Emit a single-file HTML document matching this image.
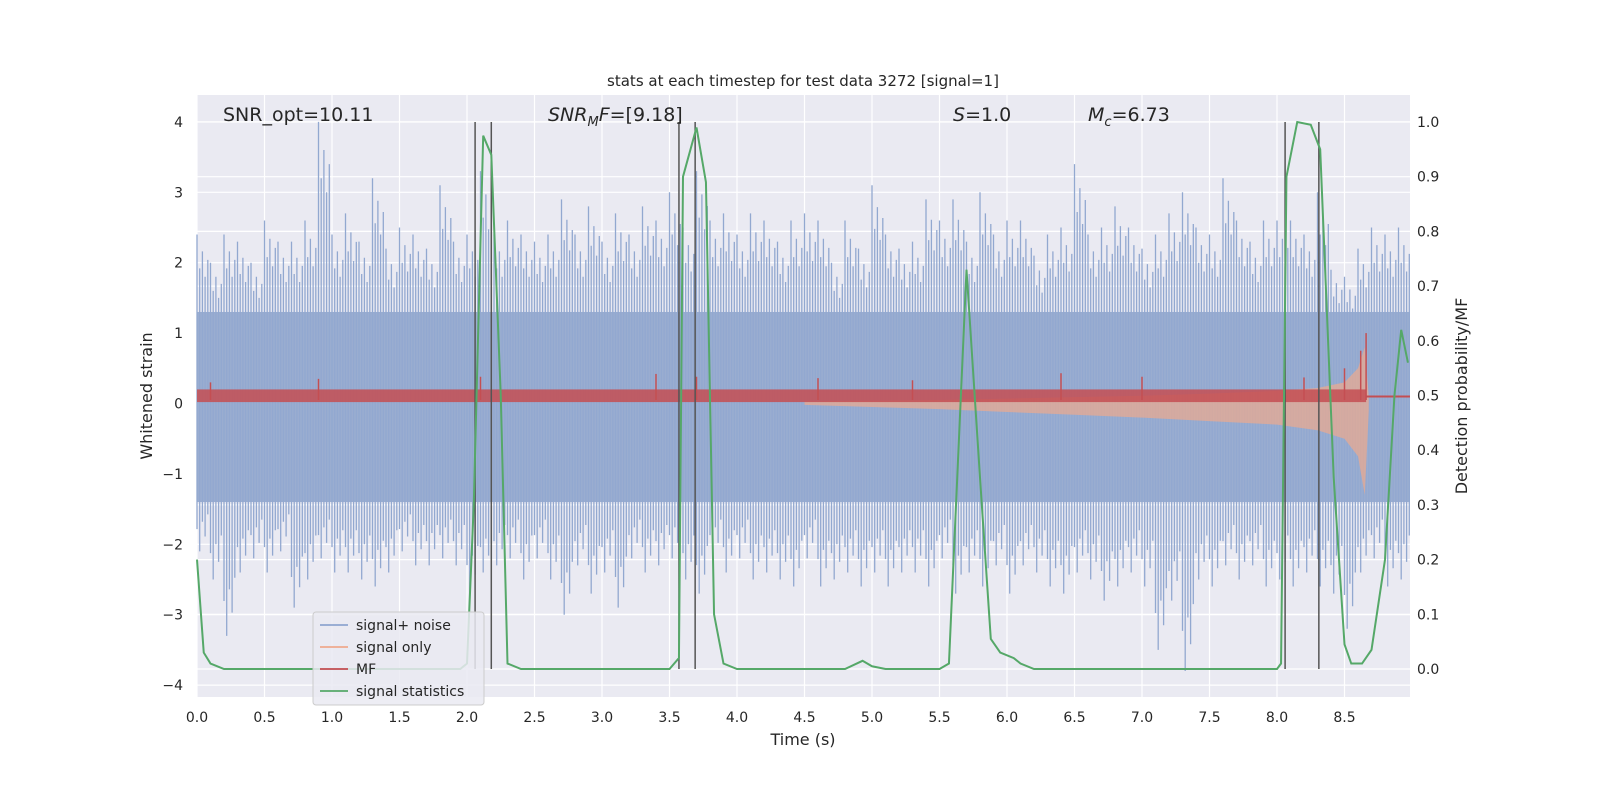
<!DOCTYPE html>
<html><head><meta charset="utf-8">
<style>
html,body{margin:0;padding:0;background:#fff;overflow:hidden;width:1600px;height:800px;}
svg{display:block;font-family:"DejaVu Sans","Liberation Sans",sans-serif;}
</style></head>
<body>
<svg id="chart" width="1600" height="800" viewBox="0 0 1600 800">
<rect x="0" y="0" width="1600" height="800" fill="#fff"/>
<rect x="197" y="95" width="1213" height="602" fill="#eaeaf2"/>
<g id="grid"></g>
<g id="noise"></g>
<g id="sigonly"></g>
<g id="mf"></g>
<g id="vlines"></g>
<g id="stat"></g>
<g id="axes"></g>
<text x="803" y="86" text-anchor="middle" font-size="15" fill="#262626">stats at each timestep for test data 3272 [signal=1]</text>
<text x="223" y="121" font-size="19" fill="#262626">SNR_opt=10.11</text>
<text x="548" y="121" font-size="19" fill="#262626"><tspan font-style="italic">SNR</tspan><tspan font-style="italic" font-size="13" dy="5">M</tspan><tspan font-style="italic" dy="-5">F</tspan>=[9.18]</text>
<text x="953" y="121" font-size="19" fill="#262626"><tspan font-style="italic">S</tspan>=1.0</text>
<text x="1088" y="121" font-size="19" fill="#262626"><tspan font-style="italic">M</tspan><tspan font-style="italic" font-size="13" dy="5">c</tspan><tspan dy="-5">=6.73</tspan></text>
<text x="803" y="745" text-anchor="middle" font-size="16" fill="#262626">Time (s)</text>
<text transform="translate(152,396) rotate(-90)" text-anchor="middle" font-size="16" fill="#262626">Whitened strain</text>
<text transform="translate(1467,396) rotate(-90)" text-anchor="middle" font-size="16" fill="#262626">Detection probability/MF</text>
<g>
<rect x="313" y="612" width="171" height="93" rx="3" fill="#eaeaf2" fill-opacity="0.85" stroke="#cccccc"/>
<line x1="320" y1="625" x2="348" y2="625" stroke="#8fa6cf" stroke-width="1.8"/>
<text x="356" y="630" font-size="14" fill="#262626">signal+ noise</text>
<line x1="320" y1="647" x2="348" y2="647" stroke="#eea98d" stroke-width="1.8"/>
<text x="356" y="652" font-size="14" fill="#262626">signal only</text>
<line x1="320" y1="669" x2="348" y2="669" stroke="#c44e52" stroke-width="1.8"/>
<text x="356" y="674" font-size="14" fill="#262626">MF</text>
<line x1="320" y1="691" x2="348" y2="691" stroke="#55a868" stroke-width="1.8"/>
<text x="356" y="696" font-size="14" fill="#262626">signal statistics</text>
</g>
</svg>
<script>
const xTicks=[0,0.5,1,1.5,2,2.5,3,3.5,4,4.5,5,5.5,6,6.5,7,7.5,8,8.5];
const yTicksLeft=[-4,-3,-2,-1,0,1,2,3,4];
const yTicksRight=[0,0.1,0.2,0.3,0.4,0.5,0.6,0.7,0.8,0.9,1.0];
const noiseUpper=[2.4,2.0,2.4,2.3,2.0,2.6,2.3,2.3,2.6,4.0,2.4,2.7,2.3,3.2,2.2,2.5,2.4,2.2,3.1,2.3,2.4,3.3,2.4,2.6,2.4,2.3,2.4,2.9,2.4,2.8,2.3,2.7,2.4,2.8,2.6,3.0,2.5,3.3,2.6,2.7,2.4,2.7,2.6,2.3,2.6,2.7,2.6,2.0,2.6,2.2,3.1,2.4,2.2,2.3,2.9,2.6,2.9,2.3,3.0,2.4,2.6,2.6,2.1,2.4,2.5,3.4,2.4,2.5,2.8,2.5,2.2,2.4,2.7,3.0,2.5,2.4,3.2,2.6,2.3,2.6,2.6,2.6,2.4,3.0,1.9,1.8,2.2,2.5,2.4,2.5];
const noiseLower=[-2.1,-2.5,-3.3,-2.4,-2.2,-2.4,-2.1,-2.9,-2.5,-2.2,-2.4,-2.4,-2.5,-2.6,-2.4,-2.1,-2.3,-2.3,-2.2,-2.3,-2.7,-2.4,-2.3,-2.2,-2.5,-2.2,-2.5,-3.0,-2.3,-2.7,-2.4,-2.9,-2.2,-2.4,-2.3,-2.2,-2.5,-2.7,-2.2,-2.4,-2.2,-2.5,-2.4,-2.5,-2.6,-2.2,-2.6,-2.5,-2.4,-2.6,-2.4,-2.6,-2.4,-2.4,-2.6,-2.2,-2.7,-2.4,-2.6,-2.3,-2.7,-2.3,-2.4,-2.6,-2.7,-2.4,-2.5,-2.8,-2.6,-2.4,-2.6,-3.5,-2.8,-3.8,-2.5,-2.6,-2.3,-2.5,-2.3,-2.6,-2.5,-2.6,-2.4,-2.6,-2.7,-3.2,-2.4,-2.2,-2.6,-2.5];
const sigTimes=[4.5,5.0,5.5,6.0,6.5,7.0,7.5,8.0,8.3,8.5,8.6,8.65,8.68];
const sigUpper=[0.03,0.04,0.05,0.07,0.09,0.11,0.14,0.18,0.22,0.3,0.5,0.8,0.1];
const sigLower=[-0.02,-0.05,-0.08,-0.12,-0.16,-0.2,-0.25,-0.3,-0.38,-0.5,-0.75,-1.3,-0.1];
const mfTimes=[0.1,0.9,2.1,3.4,3.7,4.6,5.3,6.4,7.0,8.2,8.5,8.62,8.66];
const mfSpikes=[0.3,0.35,0.38,0.42,0.38,0.36,0.33,0.43,0.38,0.37,0.5,0.75,1.0];
const statTimes=[0,0.05,0.1,0.2,1.95,2.0,2.05,2.12,2.18,2.25,2.3,2.4,3.5,3.57,3.6,3.7,3.77,3.83,3.9,4.0,4.8,4.93,5.0,5.1,5.5,5.57,5.7,5.8,5.88,5.95,6.05,6.1,6.2,8.0,8.03,8.07,8.15,8.25,8.32,8.42,8.5,8.55,8.63,8.7,8.8,8.87,8.92,8.97];
const statVals=[0.2,0.03,0.01,0,0,0.01,0.3,0.975,0.94,0.5,0.01,0,0,0.02,0.9,0.99,0.89,0.1,0.01,0,0,0.015,0.005,0,0,0.01,0.73,0.35,0.055,0.03,0.02,0.01,0,0,0.01,0.9,1.0,0.995,0.95,0.35,0.045,0.01,0.01,0.035,0.2,0.5,0.62,0.56];
const vTimes=[2.06,2.18,3.57,3.69,8.06,8.31];

const NS="http://www.w3.org/2000/svg";
const X=t=>197+t*135;
const YL=v=>403.5-v*70.4;
const YR=p=>669-p*547;
function mk(tag,attrs,parent){const e=document.createElementNS(NS,tag);for(const k in attrs)e.setAttribute(k,attrs[k]);document.getElementById(parent).appendChild(e);return e;}

xTicks.forEach(t=>{const e=mk('line',{x1:X(t),x2:X(t),y1:95,y2:697,stroke:'#fff','stroke-width':1.2},'grid');

});
yTicksLeft.forEach(v=>{const e=mk('line',{x1:197,x2:1410,y1:YL(v),y2:YL(v),stroke:'#fff','stroke-width':1.2},'grid');

});
yTicksRight.forEach(v=>{const e=mk('line',{x1:197,x2:1410,y1:YR(v),y2:YR(v),stroke:'#fff','stroke-width':1.2},'grid');

});

const band=mk('rect',{x:197,y:YL(1.3),width:1213,height:YL(-1.4)-YL(1.3),fill:'#9aadd0'},'noise');


noiseUpper.forEach((u,i)=>{const t=i*0.1;
 for(let k=0;k<5;k++){const tt=t+k*0.02;if(tt>8.98)continue;
  const f=[1,0.8,0.9,0.75,0.85][k];
  const e=mk('line',{x1:X(tt),x2:X(tt),y1:YL(u*f),y2:YL(noiseLower[i]*[0.85,1,0.8,0.9,0.75][k]),stroke:'#92a8d0','stroke-width':1.3},'noise');
  
  }
});

let pts=sigTimes.map((t,i)=>X(t)+','+YL(sigUpper[i])).join(' ')+' '+sigTimes.slice().reverse().map((t,i)=>X(t)+','+YL(sigLower[sigTimes.length-1-i])).join(' ');
const so=mk('polygon',{points:pts,fill:'#eea98d','fill-opacity':0.7},'sigonly');



const mfb=mk('rect',{x:197,y:YL(0.2),width:X(8.66)-197,height:YL(0.02)-YL(0.2),fill:'#c44e52','fill-opacity':0.85},'mf');


const mft=mk('line',{x1:X(8.66),x2:1410,y1:YL(0.1),y2:YL(0.1),stroke:'#c44e52','stroke-width':2},'mf');


mfTimes.forEach((t,i)=>{const e=mk('line',{x1:X(t),x2:X(t),y1:YL(mfSpikes[i]),y2:YL(0.05),stroke:'#c44e52','stroke-width':1.5},'mf');

});

vTimes.forEach(t=>{const e=mk('line',{x1:X(t),x2:X(t),y1:YR(1.0),y2:YR(0),stroke:'#555','stroke-width':1.5},'vlines');

});

const sl=mk('polyline',{points:statTimes.map((t,i)=>X(t)+','+YR(statVals[i])).join(' '),fill:'none',stroke:'#55a868','stroke-width':2},'stat');



xTicks.forEach(t=>{const e=mk('text',{x:X(t),y:722,'text-anchor':'middle','font-size':14,fill:'#262626'},'axes');e.textContent=t.toFixed(1);

});
yTicksLeft.forEach(v=>{const e=mk('text',{x:183,y:YL(v)+5,'text-anchor':'end','font-size':14,fill:'#262626'},'axes');e.textContent=v<0?'\u2212'+Math.abs(v):String(v);

});
yTicksRight.forEach(v=>{const e=mk('text',{x:1417,y:YR(v)+5,'font-size':14,fill:'#262626'},'axes');e.textContent=v.toFixed(1);

});
</script>
</body></html>
